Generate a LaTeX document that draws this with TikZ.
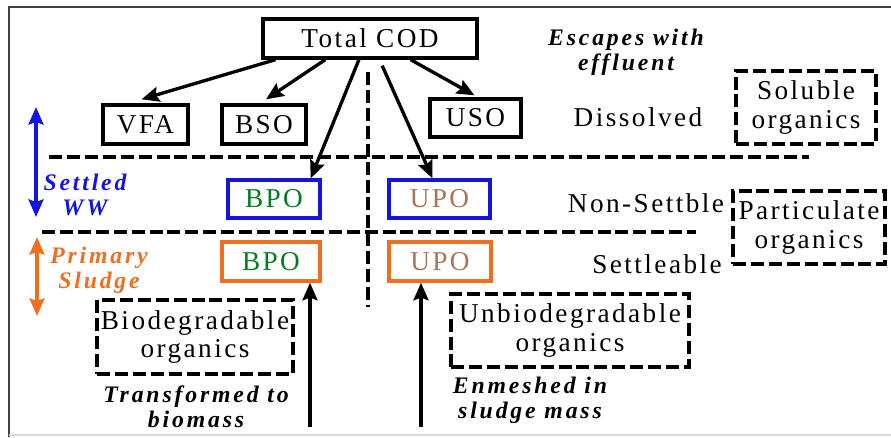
\documentclass[tikz,border=0pt]{standalone}
\usepackage{fontspec}
\setmainfont{Liberation Serif}[LetterSpace=9]
\newfontfamily\notefont{Liberation Serif}[LetterSpace=12]
\usetikzlibrary{calc, arrows.meta}
\definecolor{wwblue}{RGB}{20,20,225}
\definecolor{sludgeorange}{RGB}{240,110,30}
\definecolor{bpogreen}{RGB}{0,125,30}
\definecolor{upobrown}{RGB}{170,115,85}
\tikzset{box/.style = {draw, line width=1.9pt, inner sep=0pt, font=\fontsize{15.5}{16}\selectfont},
         groupbox/.style = {box, dash pattern=on 7.4pt off 2.8pt, align=center},
         note/.style = {align=center, font=\notefont\bfseries\itshape\fontsize{13.5}{14}\selectfont},
         plain/.style = {font=\fontsize{15.5}{16}\selectfont},
         arr/.style = {line width=1.9pt, ->},
         divider/.style = {line width=1.9pt, dash pattern=on 7.4pt off 2.8pt}}

\begin{document}
\begin{tikzpicture}[x=0.02cm, y=-0.02cm, >={Stealth[length=10pt, width=8.5pt, inset=1.5pt]}]
            \useasboundingbox (0,0) rectangle (891,437);
            \draw [line width=0.8pt, black!75] (891,7) -- (9,7) -- (9,437);
            \draw [line width=0.8pt, black!15] (9,435) -- (891,435);

            \node [box, minimum width=4.28cm, minimum height=0.78cm] (cod) at (370,38.5) {Total COD};
            \node [box, minimum width=1.70cm, minimum height=0.78cm] (vfa) at (145.5,124.5) {VFA};
            \node [box, minimum width=1.68cm, minimum height=0.78cm] (bso) at (264,124.5) {BSO};
            \node [box, minimum width=1.82cm, minimum height=0.76cm] (uso) at (475.5,118) {USO};
            \node [box, draw=wwblue, text=bpogreen, minimum width=1.84cm, minimum height=0.76cm] (bpo1) at (274,199) {BPO};
            \node [box, draw=wwblue, text=upobrown, minimum width=2.02cm, minimum height=0.76cm] (upo1) at (439.5,199) {UPO};
            \node [box, draw=sludgeorange, text=bpogreen, minimum width=1.96cm, minimum height=0.78cm] (bpo2) at (271,261.5) {BPO};
            \node [box, draw=sludgeorange, text=upobrown, minimum width=2.04cm, minimum height=0.78cm] (upo2) at (440,261.5) {UPO};

            \node [groupbox, minimum width=2.80cm, minimum height=1.46cm] (soluble) at (806,107.5) {Soluble\\organics};
            \node [groupbox, minimum width=3.04cm, minimum height=1.46cm] (partic) at (809,227.5) {Particulate\\organics};
            \node [groupbox, minimum width=3.92cm, minimum height=1.48cm] (biodeg) at (195,337) {Biodegradable\\organics};
            \node [groupbox, minimum width=4.76cm, minimum height=1.46cm] (unbiodeg) at (570,330.5) {Unbiodegradable\\organics};

            \node [plain] (dissolved) at (638,117) {Dissolved};
            \node [plain] (nonsettle) at (646,203) {Non-Settble};
            \node [plain] (settle) at (657,264) {Settleable};

            \node [note] (escapes) at (626,52) {Escapes with\\effluent};
            \node [note, text=wwblue] (settled) at (85,195) {Settled\\WW};
            \node [note, text=sludgeorange] (primary) at (99,270) {Primary\\Sludge};
            \node [note] (biomass) at (196,407) {Transformed to\\biomass};
            \node [note] (enmeshed) at (530,400) {Enmeshed in\\sludge mass};

            % phase boundaries
            \draw [divider] (49,157) -- (809,157);
            \draw [divider] (42,232) -- (696,232);
            \draw [divider] (368,72) -- (368,307);

            % split of the total COD
            \draw [arr] ($(cod.south west)!0.065!(cod.south east)$) -- ($(vfa.north)+(-4,-4)$);
            \draw [arr] ($(cod.south west)!0.294!(cod.south east)$) -- ($(bso.north)+(2,-4)$);
            \draw [arr] ($(cod.south west)!0.449!(cod.south east)$) -- ($(bpo1.north east)+(-11,0)$);
            \draw [arr] ($(cod.south west)!0.556!(cod.south east)+(0,6)$) -- ($(upo1.north)+(-7,0)$);
            \draw [arr] ($(cod.south west)!0.687!(cod.south east)$) -- ($(uso.north)+(-1,-2)$);

            % fate of the settled particulates
            \coordinate (tbase) at (310,427);
            \coordinate (ebase) at (421,427);
            \draw [arr] (tbase) -- (tbase |- bpo2.south);
            \draw [arr] (ebase) -- (ebase |- upo2.south);

            % vertical extents
            \coordinate (wwtop) at (36,107);
            \coordinate (wwbot) at (36,217);
            \coordinate (pstop) at (37,237);
            \coordinate (psbot) at (37,316);
            \draw [arr, wwblue, <->] (wwtop) -- (wwbot);
            \draw [arr, sludgeorange, <->] (pstop) -- (psbot);
\end{tikzpicture}
\end{document}
